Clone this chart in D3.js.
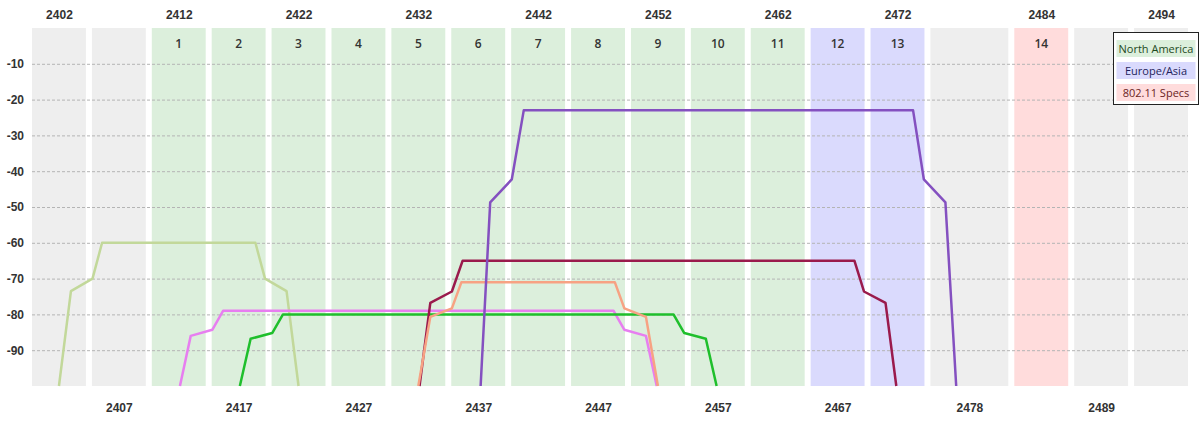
<!DOCTYPE html>
<html>
<head>
<meta charset="utf-8">
<script src="https://cdn.jsdelivr.net/npm/d3@7"></script>
<style>
  body { margin: 0; background: #fff; }
  svg { font-family: "Open Sans", "Noto Sans", sans-serif; }
  .tick text { font-size: 12px; font-weight: 600; fill: #333; }
  .domain { display: none; }
</style>
</head>
<body>
<div id="chart"></div>
<script>
// channel cells along the 2.4 GHz band (MHz)
var cellFreqs = [2402, 2407, 2412, 2417, 2422, 2427, 2432, 2437, 2442, 2447, 2452, 2457, 2462, 2467, 2472, 2478, 2484, 2489, 2494];
var cellChannels = ["", "", "1", "2", "3", "4", "5", "6", "7", "8", "9", "10", "11", "12", "13", "", "14", "", ""];
var cellRegions = ["none", "none", "na", "na", "na", "na", "na", "na", "na", "na", "na", "na", "na", "eu", "eu", "none", "spec", "none", "none"];

var topTicks = [2402, 2412, 2422, 2432, 2442, 2452, 2462, 2472, 2484, 2494];
var bottomTicks = [2407, 2417, 2427, 2437, 2447, 2457, 2467, 2478, 2489];
var yTicks = [-10, -20, -30, -40, -50, -60, -70, -80, -90];

var legendLabels = ["North America", "Europe/Asia", "802.11 Specs"];
var legendRegions = ["na", "eu", "spec"];

// networks: [frequency MHz, signal dBm]
var net2412 = [[2402, -100], [2403, -73.5], [2404.8, -70], [2405.6, -60], [2418.4, -60], [2419.2, -70], [2421, -73.5], [2422, -100]];
var net2432 = [[2412.1, -100], [2413, -86], [2414.8, -84.3], [2415.7, -79], [2448.3, -79], [2449.2, -84.3], [2451, -86], [2451.9, -100]];
var net2437 = [[2417.1, -100], [2418, -86.8], [2419.8, -85.2], [2420.7, -80], [2453.3, -80], [2454.2, -85.2], [2456, -86.8], [2456.9, -100]];
var net2452 = [[2432.1, -100], [2433, -76.8], [2434.8, -73.6], [2435.7, -65], [2468.4, -65], [2469.2, -73.6], [2471, -76.8], [2471.9, -100]];
var net2442 = [[2432, -100], [2433, -80.7], [2434.8, -78.3], [2435.6, -71], [2448.4, -71], [2449.2, -78.3], [2451, -80.7], [2452, -100]];
var net2457 = [[2437.2, -100], [2438, -48.7], [2439.8, -42.3], [2440.8, -23], [2473.3, -23], [2474.2, -42.3], [2476, -48.7], [2476.9, -100]];

var networks = [net2412, net2432, net2437, net2452, net2442, net2457];
var netColors = ["#c2d89a", "#e77ef0", "#1fbf2c", "#9a1a4c", "#f7a283", "#8450c0"];

var regionFill = {none: "#eeeeee", na: "#dcefdc", eu: "#dadafd", spec: "#ffdcdc"};
var regionText = {na: "#1e4a1e", eu: "#1e1e5a", spec: "#6a1e1e"};

var width = 1200, height = 432;
var margin = {top: 28, right: 12, bottom: 46, left: 32};

var x = d3.scaleLinear()
    .domain([2399.75, 2496.25])
    .range([margin.left, width - margin.right]);
var y = d3.scaleLinear()
    .domain([0, -100])
    .range([margin.top, height - margin.bottom]);

var svg = d3.select("#chart").append("svg")
    .attr("width", width)
    .attr("height", height);

// cell extents: channels are 4.5 MHz wide, unused cells fill the space between
var cells = cellFreqs.map(function (f, i) {
    var lo = f - 2.25, hi = f + 2.25;
    if (cellRegions[i] === "none" && i > 0 && i < cellFreqs.length - 1) {
        lo = cellFreqs[i - 1] + 2.75;
        hi = cellFreqs[i + 1] - 2.75;
    }
    return {f: f, lo: lo, hi: hi, ch: cellChannels[i], region: cellRegions[i]};
});

svg.append("g").selectAll("rect")
    .data(cells)
    .enter().append("rect")
    .attr("x", d => x(d.lo))
    .attr("width", d => x(d.hi) - x(d.lo))
    .attr("y", y(0))
    .attr("height", y(-100) - y(0))
    .attr("fill", d => regionFill[d.region]);

svg.append("g").selectAll("text")
    .data(cells.filter(d => d.ch !== ""))
    .enter().append("text")
    .attr("x", d => x(d.f))
    .attr("y", 48)
    .attr("text-anchor", "middle")
    .style("font-size", "12px")
    .style("font-weight", 600)
    .attr("fill", "#333")
    .text(d => d.ch);

// grid
svg.append("g")
    .attr("transform", "translate(" + margin.left + ",0)")
    .call(d3.axisLeft(y).tickValues(yTicks).tickSize(-(width - margin.left - margin.right)).tickFormat(""))
    .call(g => g.selectAll("line").attr("stroke", "#b4b4b4").attr("stroke-dasharray", "3,2"));

// y labels (plain hyphen like the original)
svg.append("g")
    .attr("transform", "translate(" + margin.left + ",0)")
    .call(d3.axisLeft(y).tickValues(yTicks).tickSize(0).tickPadding(8).tickFormat(d => String(d)));

// frequency labels
svg.append("g")
    .attr("transform", "translate(0,19)")
    .call(d3.axisTop(x).tickValues(topTicks).tickSize(0).tickPadding(0).tickFormat(d => String(d)));
svg.append("g")
    .attr("transform", "translate(0,403)")
    .call(d3.axisBottom(x).tickValues(bottomTicks).tickSize(0).tickPadding(0).tickFormat(d => String(d)));

// spectrum shapes
var line = d3.line().x(d => x(d[0])).y(d => y(d[1]));
svg.append("g").selectAll("path")
    .data(networks)
    .enter().append("path")
    .attr("d", line)
    .attr("fill", "none")
    .attr("stroke", (d, i) => netColors[i])
    .attr("stroke-width", 2.5)
    .attr("stroke-linejoin", "round");

// legend
var legend = svg.append("g").attr("transform", "translate(1113.5,32.5)");
legend.append("rect")
    .attr("width", 85)
    .attr("height", 72)
    .attr("fill", "#fff")
    .attr("stroke", "#222");
var item = legend.selectAll("g.item")
    .data(legendLabels)
    .enter().append("g")
    .attr("class", "item")
    .attr("transform", (d, i) => "translate(3," + (7.5 + i * 22) + ")");
item.append("rect")
    .attr("width", 79)
    .attr("height", 17)
    .attr("fill", (d, i) => regionFill[legendRegions[i]]);
item.append("text")
    .attr("x", 39.5)
    .attr("y", 13)
    .attr("text-anchor", "middle")
    .style("font-size", "11px")
    .attr("fill", (d, i) => regionText[legendRegions[i]])
    .text(d => d);
</script>
</body>
</html>
